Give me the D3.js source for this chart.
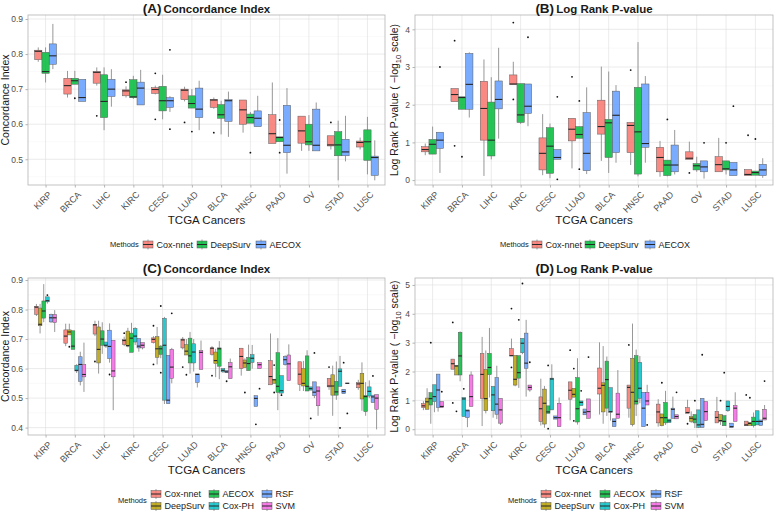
<!DOCTYPE html>
<html>
<head>
<meta charset="utf-8">
<script src="https://d3js.org/d3.v7.min.js"></script>
<style>
  body { margin: 0; background: #fff; }
  svg { font-family: "Liberation Sans", Arial, sans-serif; display: block; }
  .grid-major { stroke: #DEDEDE; stroke-width: 0.6; }
  .grid-minor { stroke: #EFEFEF; stroke-width: 0.4; }
  .axis text { fill: #4D4D4D; }
  .axis line { stroke: #B3B3B3; }
  .axis path { display: none; }
</style>
</head>
<body>
<div id="chart"></div>
<script>
// ---- data ----
const cancers = ["KIRP","BRCA","LIHC","KIRC","CESC","LUAD","BLCA","HNSC","PAAD","OV","STAD","LUSC"]
const methods3 = ["Cox-nnet","DeepSurv","AECOX"]
const methods6 = ["Cox-nnet","DeepSurv","AECOX","Cox-PH","RSF","SVM"]

// box stats per cancer: [lower whisker, q1, median, q3, upper whisker]
const ciCoxnnet = [[0.778,0.784,0.808,0.811,0.819],[0.676,0.686,0.71,0.731,0.752],[0.71,0.717,0.748,0.75,0.762],[0.676,0.681,0.695,0.698,0.708],[0.685,0.688,0.699,0.704,0.71],[0.665,0.67,0.697,0.7,0.707],[0.644,0.648,0.669,0.67,0.676],[0.576,0.6,0.641,0.669,0.669],[0.545,0.545,0.573,0.627,0.719],[0.524,0.546,0.581,0.623,0.623],[0.528,0.538,0.541,0.567,0.567],[0.528,0.535,0.548,0.552,0.562]]
const ciDeepSurv = [[0.719,0.745,0.75,0.805,0.819],[0.714,0.714,0.724,0.731,0.752],[0.583,0.619,0.665,0.741,0.762],[0.672,0.676,0.678,0.727,0.738],[0.614,0.638,0.667,0.708,0.741],[0.646,0.646,0.659,0.681,0.7],[0.571,0.617,0.627,0.656,0.667],[0.603,0.603,0.619,0.629,0.635],[0.55,0.55,0.562,0.564,0.564],[0.524,0.541,0.55,0.6,0.626],[0.44,0.51,0.541,0.579,0.61],[0.457,0.497,0.55,0.584,0.621]]
const ciAECOX = [[0.757,0.771,0.795,0.829,0.886],[0.665,0.665,0.676,0.728,0.728],[0.65,0.679,0.7,0.728,0.757],[0.655,0.655,0.703,0.72,0.755],[0.635,0.648,0.667,0.676,0.68],[0.583,0.619,0.643,0.703,0.724],[0.564,0.608,0.667,0.67,0.693],[0.593,0.593,0.617,0.638,0.681],[0.459,0.519,0.54,0.654,0.703],[0.524,0.524,0.54,0.643,0.662],[0.494,0.51,0.521,0.557,0.624],[0.44,0.454,0.505,0.509,0.554]]
const ciCoxPH = [[0.82,0.826,0.83,0.843,0.843],[0.585,0.592,0.594,0.611,0.615],[0.67,0.676,0.679,0.69,0.69],[0.68,0.69,0.71,0.736,0.74],[0.48,0.493,0.679,0.77,0.775],[0.59,0.619,0.656,0.684,0.7],[0.585,0.589,0.594,0.6,0.6],[0.6,0.621,0.635,0.647,0.68],[0.51,0.517,0.525,0.576,0.576],[0.527,0.527,0.532,0.538,0.538],[0.54,0.54,0.591,0.599,0.643],[0.5,0.507,0.523,0.538,0.56]]
const ciRSF = [[0.755,0.758,0.772,0.783,0.786],[0.543,0.557,0.614,0.64,0.657],[0.62,0.634,0.675,0.73,0.753],[0.657,0.67,0.676,0.702,0.702],[0.481,0.481,0.493,0.645,0.645],[0.536,0.553,0.58,0.582,0.582],[0.586,0.586,0.589,0.594,0.594],[0.472,0.472,0.499,0.508,0.508],[0.61,0.613,0.63,0.641,0.645],[0.5,0.508,0.52,0.555,0.555],[0.515,0.515,0.522,0.53,0.53],[0.485,0.485,0.504,0.51,0.51]]
const ciSVM = [[0.724,0.756,0.772,0.783,0.798],[0.521,0.572,0.58,0.614,0.688],[0.459,0.572,0.592,0.696,0.696],[0.665,0.67,0.679,0.688,0.688],[0.55,0.567,0.605,0.665,0.67],[0.597,0.597,0.655,0.661,0.695],[0.566,0.566,0.606,0.62,0.634],[0.6,0.6,0.613,0.62,0.62],[0.559,0.559,0.616,0.646,0.682],[0.44,0.474,0.524,0.538,0.538],[0.55,0.55,0.55,0.551,0.551],[0.394,0.462,0.5,0.512,0.512]]

const ciOutliers = [["Cox-nnet","LIHC",0.624],["Cox-nnet","KIRC",0.72],["Cox-nnet","CESC",0.745],["Cox-nnet","CESC",0.614],["Cox-nnet","LUAD",0.605],["Cox-nnet","BLCA",0.576],["Cox-nnet","STAD",0.605],
  ["DeepSurv","BRCA",0.674],["DeepSurv","LUAD",0.579],["DeepSurv","HNSC",0.519],["DeepSurv","PAAD",0.612],["DeepSurv","PAAD",0.519],
  ["AECOX","CESC",0.812],["AECOX","CESC",0.586],
  ["Cox-PH","KIRP",0.849],["Cox-PH","PAAD",0.51],["Cox-PH","OV",0.431],["Cox-PH","STAD",0.399],
  ["RSF","LIHC",0.58],["RSF","BLCA",0.557],["RSF","HNSC",0.411],["RSF","OV",0.653],["RSF","STAD",0.62],["RSF","LUSC",0.575],
  ["SVM","CESC",0.787],["SVM","HNSC",0.532],["SVM","STAD",0.448]]

const lrCoxnnet = [[0.66,0.75,0.81,0.885,0.97],[2.08,2.08,2.27,2.43,2.43],[0.11,1.06,1.9,2.62,3.2],[2.54,2.54,2.55,2.79,3.14],[0.13,0.27,0.71,1.12,1.75],[0.31,1.04,1.35,1.64,1.64],[0.51,1.22,1.42,2.12,3.01],[0.4,0.73,1.45,1.53,1.53],[0.09,0.22,0.6,0.87,1.04],[0.55,0.55,0.58,0.75,1.02],[0.22,0.22,0.41,0.62,1.12],[0.12,0.12,0.15,0.28,0.28]]
const lrDeepSurv = [[0.69,0.69,0.95,1.08,1.42],[1.88,1.88,2.19,2.21,2.21],[0.55,0.64,1.06,2.07,2.73],[1.49,1.53,1.73,2.56,2.56],[0.05,0.18,0.9,1.39,1.5],[1.11,1.11,1.21,1.42,1.42],[0.19,0.6,1.52,1.61,2.88],[0.1,0.16,1.28,2.46,3.66],[0.1,0.12,0.4,0.53,0.53],[0.22,0.27,0.38,0.44,0.62],[0.15,0.27,0.3,0.51,0.51],[0.13,0.13,0.2,0.24,0.24]]
const lrAECOX = [[0.19,0.84,1.06,1.27,1.27],[1.66,1.88,2.54,3.36,3.39],[1.1,1.89,2.14,2.63,3.51],[1.43,1.77,1.96,2.55,2.55],[0.55,0.55,0.6,0.81,0.81],[0.16,0.25,0.71,1.79,2.46],[0.46,0.73,1.72,2.36,2.52],[0.46,0.87,0.97,2.55,2.76],[0.15,0.22,0.4,0.93,1.33],[0.04,0.22,0.35,0.51,0.51],[0.12,0.12,0.27,0.47,0.47],[0.06,0.12,0.27,0.42,0.58]]
const lrCoxPH = [[0.59,0.96,1.13,1.54,1.54],[0.44,0.44,1.05,1.1,1.1],[0.4,0.64,1.19,1.48,1.5],[2.6,2.65,2.98,3.15,3.15],[0.67,0.67,1.74,1.77,2.25],[0.82,0.82,0.93,0.98,0.98],[0.3,0.59,0.61,1.44,1.44],[0.9,1.07,1.42,2.32,2.54],[0.23,0.23,0.29,0.35,0.35],[0.04,0.06,0.15,0.67,0.67],[0.6,0.64,0.79,0.98,0.98],[0.15,0.15,0.27,0.64,0.64]]
const lrRSF = [[0.61,0.75,1.36,1.91,1.91],[0.07,0.4,0.64,0.67,0.67],[0.35,0.52,0.87,1.79,2.2],[1.13,2.11,2.29,3.33,3.79],[0.35,0.35,0.4,0.46,0.46],[0.5,0.5,0.59,0.7,0.7],[0.09,0.09,0.27,0.36,0.36],[0.09,0.09,0.73,1.28,1.28],[0.38,0.38,0.69,0.73,1.13],[0.06,0.06,0.17,1.07,1.07],[0.06,0.06,0.09,0.21,0.21],[0.13,0.13,0.27,0.32,0.32]]
const lrSVM = [[0.75,0.75,0.79,0.96,0.96],[0.79,0.79,1.13,1.88,2.0],[0.15,0.21,0.67,1.07,1.07],[1.3,1.36,1.45,1.53,1.53],[0.09,0.09,0.4,0.9,1.1],[0.38,0.38,0.61,1.05,1.05],[0.38,0.38,0.52,1.25,2.05],[0.84,0.84,0.98,1.28,1.54],[0.36,0.36,0.44,0.5,0.5],[0.3,0.3,0.61,0.96,0.96],[0.27,0.27,0.73,0.82,1.28],[0.32,0.32,0.38,0.69,0.84]]

const lrOutliers = [["Cox-nnet","BRCA",3.7],["Cox-nnet","BRCA",0.91],["Cox-nnet","KIRC",4.18],["Cox-nnet","KIRC",2.14],["Cox-nnet","LUAD",2.74],["Cox-nnet","HNSC",2.92],["Cox-nnet","OV",0.19],["Cox-nnet","LUSC",1.19],
  ["DeepSurv","BRCA",0.62],["DeepSurv","LUAD",2.1],["DeepSurv","LUAD",0.29],["DeepSurv","PAAD",1.61],["DeepSurv","STAD",0.99],["DeepSurv","LUSC",1.09],
  ["AECOX","KIRP",3.0],["AECOX","KIRC",3.79],["AECOX","CESC",2.21],["AECOX","CESC",0.02],["AECOX","OV",0.99],["AECOX","STAD",1.96],
  ["Cox-PH","KIRC",5.05],["Cox-PH","LUAD",1.33],["Cox-PH","BRCA",1.4],
  ["RSF","OV",2.58],
  ["SVM","KIRP",1.3],["SVM","KIRC",2.32],["SVM","LUAD",2.5],["SVM","HNSC",0.15],["SVM","PAAD",1.28],["SVM","LUSC",1.67]]

const ciData = {"Cox-nnet": ciCoxnnet, "DeepSurv": ciDeepSurv, "AECOX": ciAECOX, "Cox-PH": ciCoxPH, "RSF": ciRSF, "SVM": ciSVM}
const lrData = {"Cox-nnet": lrCoxnnet, "DeepSurv": lrDeepSurv, "AECOX": lrAECOX, "Cox-PH": lrCoxPH, "RSF": lrRSF, "SVM": lrSVM}

const colors3 = {"Cox-nnet": "#F8766D", "DeepSurv": "#00BA38", "AECOX": "#619CFF"}
const colors6 = {"Cox-nnet": "#F8766D", "DeepSurv": "#B79F00", "AECOX": "#00BA38", "Cox-PH": "#00BFC4", "RSF": "#619CFF", "SVM": "#F564E3"}

// ---- canvas ----
const svg = d3.select("#chart").append("svg")
  .attr("width", 778)
  .attr("height", 512)

function drawPanel(p) {
  const g = svg.append("g")

  const xScale = d3.scalePoint()
    .domain(cancers)
    .range([p.left, p.right])
    .padding(0.6)
  const step = xScale.step()

  const dodge = d3.scaleBand()
    .domain(p.methods)
    .range([-0.375 * step, 0.375 * step])
  const bw = dodge.bandwidth()

  const yScale = d3.scaleLinear()
    .domain(p.domain)
    .range([p.bottom, p.top])

  // grid
  g.selectAll(".grid-minor")
    .data(p.minor)
    .join("line")
      .attr("class", "grid-minor")
      .attr("x1", p.left).attr("x2", p.right)
      .attr("y1", d => yScale(d)).attr("y2", d => yScale(d))
  g.selectAll(".grid-major-y")
    .data(p.ticks)
    .join("line")
      .attr("class", "grid-major grid-major-y")
      .attr("x1", p.left).attr("x2", p.right)
      .attr("y1", d => yScale(d)).attr("y2", d => yScale(d))
  g.selectAll(".grid-major-x")
    .data(cancers)
    .join("line")
      .attr("class", "grid-major grid-major-x")
      .attr("x1", d => xScale(d)).attr("x2", d => xScale(d))
      .attr("y1", p.top).attr("y2", p.bottom)

  // boxes
  const rows = []
  p.methods.forEach(m => {
    p.data[m].forEach((s, i) => rows.push({m: m, c: cancers[i], s: s}))
  })
  const cx = d => xScale(d.c) + dodge(d.m) + bw / 2

  const boxes = g.selectAll(".box")
    .data(rows)
    .join("g")
      .attr("class", "box")

  boxes.append("line")
    .attr("x1", cx).attr("x2", cx)
    .attr("y1", d => yScale(d.s[3])).attr("y2", d => yScale(d.s[4]))
    .attr("stroke", "#8c8c8c").attr("stroke-width", 0.9)
  boxes.append("line")
    .attr("x1", cx).attr("x2", cx)
    .attr("y1", d => yScale(d.s[1])).attr("y2", d => yScale(d.s[0]))
    .attr("stroke", "#8c8c8c").attr("stroke-width", 0.9)
  boxes.append("rect")
    .attr("x", d => cx(d) - bw / 2)
    .attr("width", bw)
    .attr("y", d => yScale(d.s[3]))
    .attr("height", d => Math.max(0.6, yScale(d.s[1]) - yScale(d.s[3])))
    .attr("fill", d => p.colors[d.m])
    .attr("fill-opacity", 0.85)
    .attr("stroke", "#5a5a5a")
    .attr("stroke-width", 0.5)
  boxes.append("line")
    .attr("x1", d => cx(d) - bw / 2).attr("x2", d => cx(d) + bw / 2)
    .attr("y1", d => yScale(d.s[2])).attr("y2", d => yScale(d.s[2]))
    .attr("stroke", "#262626").attr("stroke-width", 1.1)

  // outliers
  g.selectAll(".outlier")
    .data(p.outliers.filter(o => p.methods.includes(o[0])))
    .join("circle")
      .attr("class", "outlier")
      .attr("cx", d => xScale(d[1]) + dodge(d[0]) + bw / 2)
      .attr("cy", d => yScale(d[2]))
      .attr("r", 0.9)
      .attr("fill", "#111")

  // panel border
  g.append("rect")
    .attr("x", p.left).attr("y", p.top)
    .attr("width", p.right - p.left).attr("height", p.bottom - p.top)
    .attr("fill", "none")
    .attr("stroke", "#B3B3B3")
    .attr("stroke-width", 0.8)

  // axes
  const yAxis = g.append("g")
    .attr("class", "axis")
    .attr("transform", `translate(${p.left},0)`)
    .call(d3.axisLeft(yScale).tickValues(p.ticks).tickSize(2.5).tickPadding(2.5).tickFormat(p.fmt))
  yAxis.selectAll("text").style("font-size", "8.5px")

  const xAxis = g.append("g")
    .attr("class", "axis")
    .attr("transform", `translate(0,${p.bottom})`)
    .call(d3.axisBottom(xScale).tickSize(2.5))
  xAxis.selectAll("text")
    .style("font-size", "9px")
    .attr("text-anchor", "end")
    .attr("x", 0).attr("y", 0).attr("dy", "0.35em")
    .attr("transform", "translate(4,8) rotate(-45)")

  // titles
  const title = g.append("text")
    .attr("x", (p.left + p.right) / 2)
    .attr("y", p.titleY)
    .attr("text-anchor", "middle")
    .style("font-weight", "bold")
    .style("fill", "#1a1a1a")
  title.append("tspan").style("font-size", "13.5px").text(p.letter)
  title.append("tspan").style("font-size", "11.5px").attr("dx", 2).text(p.title)

  g.append("text")
    .attr("x", (p.left + p.right) / 2)
    .attr("y", p.bottom + 39)
    .attr("text-anchor", "middle")
    .style("font-size", "11.5px")
    .style("fill", "#1a1a1a")
    .text("TCGA Cancers")

  const yt = g.append("text")
    .attr("transform", `translate(${p.ytitleX},${(p.top + p.bottom) / 2}) rotate(-90)`)
    .attr("text-anchor", "middle")
    .style("font-size", "10.5px")
    .style("fill", "#1a1a1a")
  if (p.logTitle) {
    yt.append("tspan").text("Log Rank P-value ( \u2212log")
    yt.append("tspan").attr("dy", 2.5).style("font-size", "7.5px").text("10")
    yt.append("tspan").attr("dy", -2.5).text(" scale)")
  } else {
    yt.text("Concordance Index")
  }

  // legend
  const lg = g.append("g")
  lg.append("text")
    .attr("x", p.legend.x)
    .attr("y", p.legend.y)
    .attr("dy", "0.35em")
    .style("font-size", "7.5px")
    .style("fill", "#1a1a1a")
    .text("Methods")
  p.legend.items.forEach((it, i) => {
    const k = lg.append("g").attr("transform", `translate(${it[0]},${it[1]})`)
    const m = p.methods[i]
    k.append("line").attr("x1", 5).attr("x2", 5).attr("y1", -5).attr("y2", 5)
      .attr("stroke", "#8c8c8c").attr("stroke-width", 0.8)
    k.append("rect").attr("x", 0).attr("y", -3.5).attr("width", 10).attr("height", 7)
      .attr("fill", p.colors[m]).attr("fill-opacity", 0.85)
      .attr("stroke", "#5a5a5a").attr("stroke-width", 0.5)
    k.append("line").attr("x1", 0).attr("x2", 10).attr("y1", 0).attr("y2", 0)
      .attr("stroke", "#262626").attr("stroke-width", 1)
    k.append("text")
      .attr("x", 13.5).attr("y", 0).attr("dy", "0.35em")
      .style("font-size", "9px")
      .style("fill", "#1a1a1a")
      .text(m)
  })
}

const ciTicks = [0.4, 0.5, 0.6, 0.7, 0.8, 0.9]
const ciMinor = [0.45, 0.55, 0.65, 0.75, 0.85]
const lrTicks = [0, 1, 2, 3, 4, 5]
const lrMinor = [0.5, 1.5, 2.5, 3.5, 4.5]

drawPanel({
  left: 28, right: 385, top: 15, bottom: 185, titleY: 12.5,
  domain: [0.4267, 0.9114], ticks: ciTicks.filter(t => t >= 0.45), minor: ciMinor, fmt: d3.format(".1f"),
  methods: methods3, colors: colors3, data: ciData, outliers: ciOutliers,
  letter: "(A)", title: "Concordance Index", ytitleX: 9, logTitle: false,
  legend: {x: 110, y: 244.5, items: [[143, 244.5], [197, 244.5], [256, 244.5]]}
})

drawPanel({
  left: 415, right: 773, top: 15, bottom: 185, titleY: 12.5,
  domain: [-0.13, 4.38], ticks: lrTicks.filter(t => t <= 4), minor: lrMinor.filter(t => t < 4.3), fmt: d3.format("d"),
  methods: methods3, colors: colors3, data: lrData, outliers: lrOutliers,
  letter: "(B)", title: "Log Rank P-value", ytitleX: 398, logTitle: true,
  legend: {x: 500, y: 244.5, items: [[532, 244.5], [585, 244.5], [645, 244.5]]}
})

drawPanel({
  left: 28, right: 385, top: 278, bottom: 435, titleY: 273,
  domain: [0.375, 0.9068], ticks: ciTicks, minor: ciMinor, fmt: d3.format(".1f"),
  methods: methods6, colors: colors6, data: ciData, outliers: ciOutliers,
  letter: "(C)", title: "Concordance Index", ytitleX: 9, logTitle: false,
  legend: {x: 118, y: 500, items: [[151, 494], [151, 506], [209, 494], [209, 506], [262, 494], [262, 506]]}
})

drawPanel({
  left: 415, right: 773, top: 278, bottom: 435, titleY: 273,
  domain: [-0.2, 5.24], ticks: lrTicks, minor: lrMinor, fmt: d3.format("d"),
  methods: methods6, colors: colors6, data: lrData, outliers: lrOutliers,
  letter: "(D)", title: "Log Rank P-value", ytitleX: 398, logTitle: true,
  legend: {x: 508, y: 500, items: [[541, 494], [541, 506], [600, 494], [600, 506], [651, 494], [651, 506]]}
})
</script>
</body>
</html>
